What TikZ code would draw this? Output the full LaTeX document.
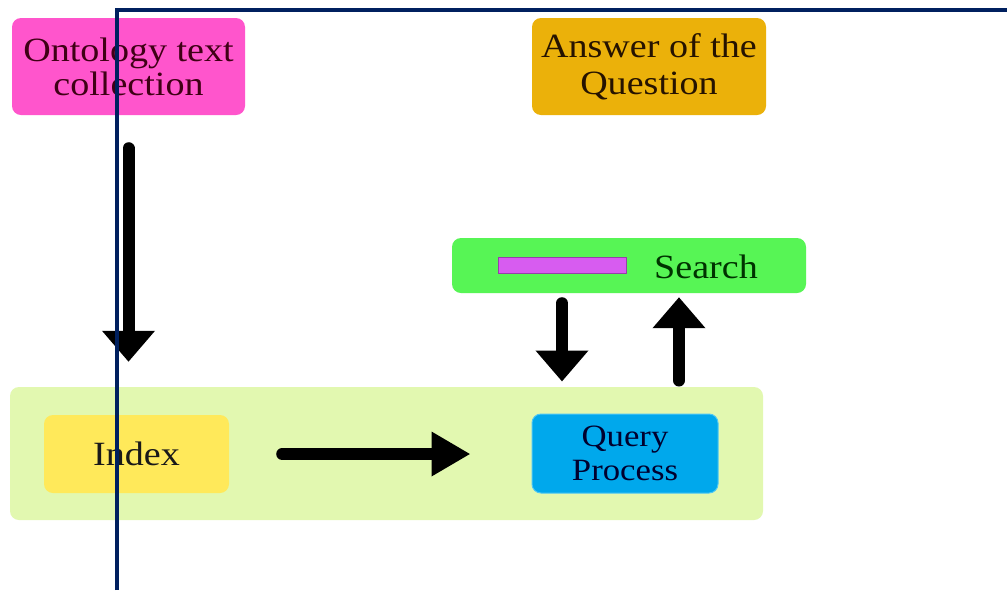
\documentclass[tikz,border=0pt]{standalone}
\usepackage{fontspec}
\setmainfont{Liberation Serif}[FakeStretch=1.12]
\usepackage{tikz}
\usetikzlibrary{arrows.meta}

\definecolor{ontoPink}{RGB}{255,85,204}
\definecolor{answerGold}{RGB}{235,177,10}
\definecolor{searchGreen}{RGB}{87,245,85}
\definecolor{barPurple}{RGB}{215,92,240}
\definecolor{panelGreen}{RGB}{226,248,176}
\definecolor{indexYellow}{RGB}{255,233,90}
\definecolor{queryBlue}{RGB}{0,168,236}
\definecolor{frameNavy}{RGB}{0,32,95}

\tikzset{
  box/.style={rectangle, rounded corners=9pt, inner sep=0pt, align=center},
  bigarrow/.style={line width=12pt, line cap=round, -{Triangle[width=51pt,length=31pt]}},
  boxfont/.style={font=\fontsize{34}{#1}\selectfont}
}

\begin{document}
\begin{tikzpicture}[x=1pt,y=-1pt]
\useasboundingbox[fill=white] (0,0) rectangle (1007,590);
% top row
\node[box,fill=ontoPink,minimum width=233,minimum height=97,text=black!40!purple!55!black,boxfont=34] (onto) at (128.5,66.5) {Ontology text\\collection};
\node[box,fill=answerGold,minimum width=234,minimum height=97,text=black!85!orange,boxfont=37] (answer) at (649,66.5) {Answer of the\\Question};
% search
\node[box,fill=searchGreen,minimum width=354,minimum height=55] (search) at (629,265.5) {};
\node[rectangle,fill=barPurple,draw=barPurple!70!black,line width=0.6pt,minimum width=128,minimum height=16,inner sep=0pt] (bar) at (562,265) {};
\node[boxfont=34,text=black!80!green,inner sep=0pt] (searchtxt) at (706,267) {Search};
% bottom panel
\node[box,fill=panelGreen,minimum width=753,minimum height=133] (panel) at (386.5,453.5) {};
\node[box,fill=indexYellow,minimum width=185,minimum height=78,text=black!90,boxfont=34] (index) at (136.5,454) {Index};
\node[box,fill=queryBlue,draw=cyan!70,line width=1pt,minimum width=186,minimum height=79,text=black!70!blue!60!black,font=\fontsize{31}{34}\selectfont] (query) at (625,453.5) {Query\\Process};
% arrows
\draw[bigarrow,shorten <=33pt,shorten >=25pt] (onto.south) -- (onto.south |- panel.north);
\draw[bigarrow,-{Triangle[width=42pt,length=39pt]},shorten <=53pt,shorten >=61pt] (index.east) -- (index.east -| query.west);
\draw[bigarrow,shorten <=10pt,shorten >=32pt] (bar.south |- search.south) -- (bar.south |- query.north);
\draw[bigarrow,shorten <=33pt,shorten >=4pt] ([xshift=54pt]query.north) -- ([xshift=54pt]query.north |- search.south);
% frame lines
\draw[frameNavy,line width=4pt] (117,590) -- (117,10) -- (1007,10);
\end{tikzpicture}
\end{document}
